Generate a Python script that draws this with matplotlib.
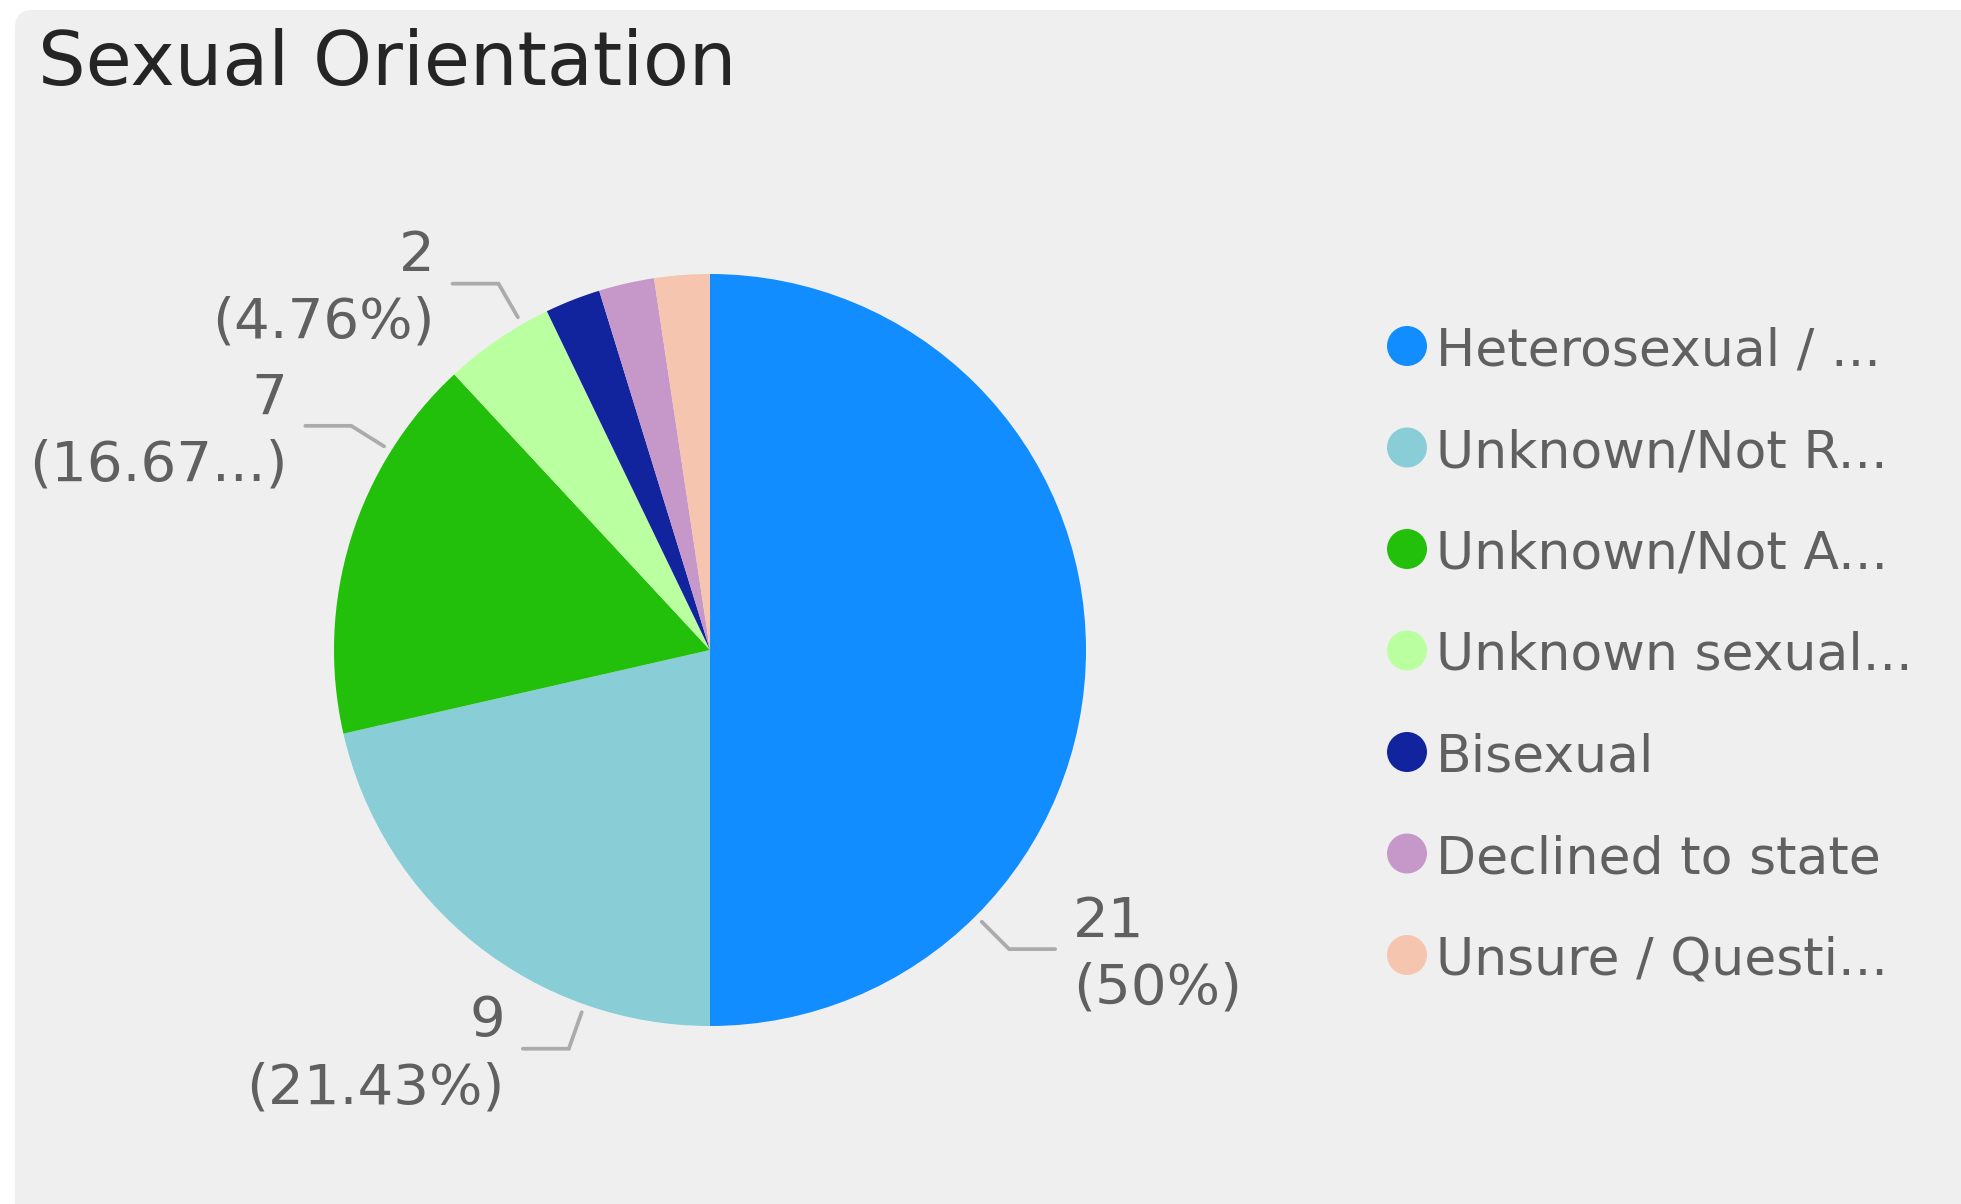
import numpy as np
import matplotlib
matplotlib.use("Agg")
import matplotlib.pyplot as plt
from matplotlib.patches import FancyBboxPatch

# ---- data ----
categories = ["Heterosexual / ...", "Unknown/Not R...", "Unknown/Not A...", "Unknown sexual...",
              "Bisexual", "Declined to state", "Unsure / Questi..."]
values = [21, 9, 7, 2, 1, 1, 1]
data_labels = ["21\n(50%)", "9\n(21.43%)", "7\n(16.67...)", "2\n(4.76%)", None, None, None]
colors = ["#118DFF", "#89CDD6", "#22C00A", "#BAFFA0", "#12239E", "#C598C9", "#F5C5B0"]

# ---- layout (pixel space) ----
W, H = 1961, 1204
fig = plt.figure(figsize=(W / 100, H / 100), dpi=100)
fig.patch.set_facecolor("white")
ax = fig.add_axes([0, 0, 1, 1])

def Y(y_img):
    return H - y_img

cx, cy, r = 710, Y(650), 376

ax.pie(values, colors=colors, startangle=90, counterclock=False,
       center=(cx, cy), radius=r, wedgeprops=dict(linewidth=0), frame=True)

# panel background
panel = FancyBboxPatch((15, -20), W + 20, H - 10 + 20, boxstyle="round,pad=0,rounding_size=18",
                       facecolor="#EFEFEF", edgecolor="none", zorder=-10)
ax.add_patch(panel)

ax.set_xlim(0, W)
ax.set_ylim(0, H)
ax.set_aspect("auto")
ax.axis("off")

# title
ax.text(38, Y(85), "Sexual Orientation", fontsize=54, color="#252525",
        ha="left", va="baseline", family="DejaVu Sans")

# data labels with leader lines
label_angles = [-45, -109.5, 148, 120, None, None, None]
text_color = "#606060"
for lab, ang in zip(data_labels, label_angles):
    if lab is None:
        continue
    a = np.deg2rad(ang)
    x0, y0 = cx + r * 1.022 * np.cos(a), cy + r * 1.022 * np.sin(a)
    x1, y1 = cx + r * 1.125 * np.cos(a), cy + r * 1.125 * np.sin(a)
    s = 1 if np.cos(a) > 0 else -1
    x2 = x1 + s * 46
    ax.plot([x0, x1, x2], [y0, y1, y1], color="#ABABAB", lw=2.7,
            solid_capstyle="round", solid_joinstyle="miter", zorder=3)
    ax.text(x2 + s * 18, y1 - 6, lab, fontsize=40.5, color=text_color,
            ha="left" if s > 0 else "right", va="center",
            multialignment="left" if s > 0 else "right", linespacing=1.3)

# legend
leg_y0, leg_dy = 346, 101.5
for i, (cat, col) in enumerate(zip(categories, colors)):
    yy = Y(leg_y0 + i * leg_dy)
    ax.scatter([1407], [yy], s=(40 * 0.72) ** 2, color=col, edgecolors="none", zorder=4)
    ax.text(1436, yy, cat, fontsize=37.5, color=text_color, ha="left", va="center_baseline")

fig.savefig("out.png", dpi=100, facecolor="white")
